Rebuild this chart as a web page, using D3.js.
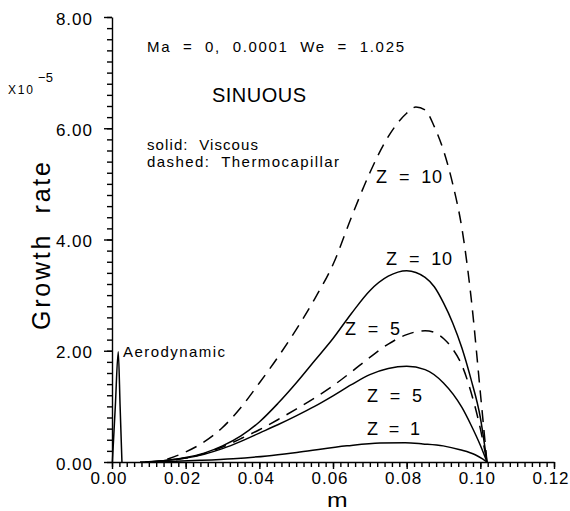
<!DOCTYPE html>
<html>
<head>
<meta charset="utf-8">
<script src="https://cdn.jsdelivr.net/npm/d3@7"></script>
<style>
  body { margin: 0; background: #fff; }
  svg { font-family: "Liberation Sans", Arial, sans-serif; }
  text { fill: #000; white-space: pre; }
</style>
</head>
<body>
<svg width="570" height="511"></svg>
<script>
var svg = d3.select("svg");

// tick values
var xMajor = [0, 0.02, 0.04, 0.06, 0.08, 0.10, 0.12];
var yMajor = [0, 2, 4, 6, 8];

// curves: [m, growth rate x1e-5]
var aerodynamic = [[0.0001, 0], [0.0009, 1.0], [0.0017, 1.98], [0.0022, 1.0], [0.0027, 0]];

var viscousZ1 = [[0.0076, 0], [0.0157, 0.01], [0.0239, 0.03], [0.0329, 0.06], [0.0421, 0.11],
  [0.051, 0.18], [0.0638, 0.29], [0.0728, 0.34], [0.0796, 0.345], [0.0844, 0.325],
  [0.0899, 0.29], [0.0945, 0.22], [0.0986, 0.13], [0.1007, 0.05], [0.1018, 0]];

var viscousZ5 = [[0.009, 0], [0.015, 0.03], [0.02, 0.07], [0.025, 0.14], [0.03, 0.24],
  [0.035, 0.37], [0.04, 0.52], [0.045, 0.67], [0.05, 0.83], [0.055, 1.0],
  [0.06, 1.19], [0.065, 1.39], [0.07, 1.57], [0.075, 1.68], [0.08, 1.72],
  [0.085, 1.66], [0.09, 1.42], [0.095, 0.98], [0.0975, 0.66], [0.1, 0.3], [0.1018, 0]];

var viscousZ10 = [[0.010, 0], [0.015, 0.03], [0.02, 0.08], [0.025, 0.16], [0.03, 0.29],
  [0.035, 0.47], [0.04, 0.72], [0.045, 1.05], [0.05, 1.42], [0.055, 1.82],
  [0.06, 2.22], [0.065, 2.67], [0.07, 3.08], [0.075, 3.34], [0.08, 3.44],
  [0.085, 3.32], [0.0875, 3.15], [0.09, 2.86], [0.0925, 2.5], [0.095, 2.05],
  [0.0975, 1.48], [0.1, 0.8], [0.1018, 0]];

var thermoZ5 = [[0.012, 0], [0.02, 0.07], [0.025, 0.15], [0.03, 0.27], [0.035, 0.42],
  [0.04, 0.58], [0.045, 0.76], [0.05, 0.95], [0.055, 1.15], [0.06, 1.37],
  [0.065, 1.62], [0.07, 1.88], [0.075, 2.12], [0.08, 2.29], [0.085, 2.36],
  [0.0875, 2.33], [0.09, 2.22], [0.0925, 2.03], [0.095, 1.74], [0.0975, 1.25],
  [0.1, 0.6], [0.1018, 0]];

var thermoZ10 = [[0.015, 0.05], [0.02, 0.18], [0.025, 0.36], [0.03, 0.62], [0.035, 0.98],
  [0.04, 1.42], [0.045, 1.88], [0.05, 2.38], [0.055, 2.93], [0.06, 3.55],
  [0.065, 4.4], [0.07, 5.2], [0.075, 5.85], [0.08, 6.27], [0.0825, 6.38],
  [0.085, 6.33], [0.0875, 6.03], [0.09, 5.6], [0.0925, 5.0], [0.095, 4.2],
  [0.0975, 2.95], [0.1, 1.25], [0.1018, 0]];

var x = d3.scaleLinear().domain([0, 0.12]).range([112, 554]);
var y = d3.scaleLinear().domain([0, 8]).range([462, 17]);

// minor ticks
svg.append("g")
    .attr("transform", "translate(0,462)")
    .call(d3.axisBottom(x).tickValues(d3.range(0, 0.1201, 0.002)).tickSize(5).tickFormat(""))
    .call(function(g) { g.select(".domain").remove(); });
svg.append("g")
    .attr("transform", "translate(112,0)")
    .call(d3.axisLeft(y).tickValues(d3.range(0, 8.01, 0.2)).tickSize(5).tickFormat(""))
    .call(function(g) { g.select(".domain").remove(); });

// major ticks
var xAxis = svg.append("g")
    .attr("transform", "translate(0,462)")
    .call(d3.axisBottom(x).tickValues(xMajor).tickSize(7).tickSizeOuter(0).tickPadding(3)
      .tickFormat(d3.format(".2f")));
xAxis.selectAll("text").attr("dx", -3.5).style("font-size", "17px").style("letter-spacing", "1px");

var yAxis = svg.append("g")
    .attr("transform", "translate(112,0)")
    .call(d3.axisLeft(y).tickValues(yMajor).tickSize(8).tickSizeOuter(0).tickPadding(11)
      .tickFormat(d3.format(".2f")));
yAxis.selectAll("text").attr("dy", "0.42em").style("font-size", "17px").style("letter-spacing", "1px");

svg.selectAll(".domain, .tick line").attr("stroke", "#000").attr("stroke-width", 1.4);

var line = d3.line()
    .x(function(d) { return x(d[0]); })
    .y(function(d) { return y(d[1]); })
    .curve(d3.curveMonotoneX);

[aerodynamic, viscousZ1, viscousZ5, viscousZ10].forEach(function(s) {
  svg.append("path").attr("d", line(s))
      .attr("fill", "none").attr("stroke", "#000").attr("stroke-width", 1.5);
});
[thermoZ5, thermoZ10].forEach(function(s) {
  svg.append("path").attr("d", line(s))
      .attr("fill", "none").attr("stroke", "#000").attr("stroke-width", 1.5)
      .attr("stroke-dasharray", "12,8");
});

function label(txt, px, py, size, len) {
  return svg.append("text").attr("x", px).attr("y", py)
      .style("font-size", size + "px")
      .attr("textLength", len).attr("lengthAdjust", "spacing")
      .text(txt);
}

label("Ma  =  0,  0.0001  We  =  1.025", 147, 52, 15, 257);
label("SINUOUS", 212, 102, 20, 94);
label("solid:  Viscous", 147, 150, 15, 111);
label("dashed:  Thermocapillar", 147, 167, 15, 192);
label("Z  =  10", 376, 183, 18, 66);
label("Z  =  10", 386, 265, 18, 66);
label("Z  =  5", 345, 335, 18, 55);
label("Z  =  5", 367, 402, 18, 55);
label("Z  =  1", 367, 435, 18, 53);
label("Aerodynamic", 123, 357, 15, 102);
label("X10", 8, 94, 12, 25);
label("\u22125", 38, 82, 13, 15);

svg.append("text")
    .attr("transform", "translate(327,506.5) scale(1.18,1)")
    .style("font-size", "21px")
    .text("m");

svg.append("text")
    .attr("transform", "translate(50,246) rotate(-90)")
    .attr("text-anchor", "middle")
    .style("font-size", "25px")
    .attr("textLength", 168).attr("lengthAdjust", "spacing")
    .text("Growth  rate");
</script>
</body>
</html>
